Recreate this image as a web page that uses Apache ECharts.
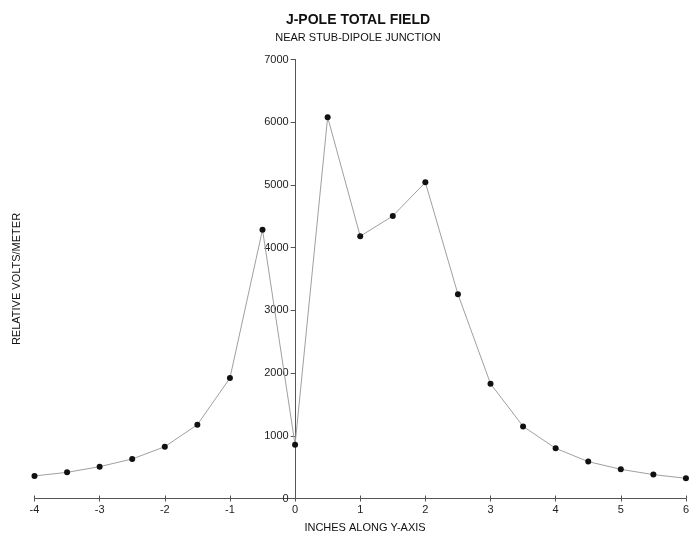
<!DOCTYPE html>
<html>
<head>
<meta charset="utf-8">
<script src="https://cdn.jsdelivr.net/npm/echarts@6/dist/echarts.min.js"></script>
<style>
  html, body { margin: 0; padding: 0; background: #fff; }
  #chart { width: 692px; height: 535px; }
</style>
</head>
<body>
<div id="chart"></div>
<script>
// Position along the Y axis (inches) and the total field magnitude at each point
const positions = [-4, -3.5, -3, -2.5, -2, -1.5, -1, -0.5, 0, 0.5, 1, 1.5, 2, 2.5, 3, 3.5, 4, 4.5, 5, 5.5, 6];
const fieldValues = [360, 417, 508, 630, 826, 1177, 1920, 4287, 858, 6081, 4182, 4505, 5041, 3258, 1830, 1150, 800, 588, 465, 381, 322];

const titleText = 'J-POLE TOTAL FIELD';
const subtitleText = 'NEAR STUB-DIPOLE JUNCTION';
const xAxisName = 'INCHES ALONG Y-AXIS';
const yAxisName = 'RELATIVE VOLTS/METER';

const FONT = 'Arial, "Liberation Sans", sans-serif';
const AXIS_COLOR = '#555';

const X_MIN = -4, X_MAX = 6;
const GRID_LEFT = 34.5, GRID_RIGHT = 4.5;
const CHART_W = 692;

// the vertical axis sits at x = 0, so shift it in from the grid's left edge
const plotW = CHART_W - GRID_LEFT - GRID_RIGHT;
const yAxisShift = plotW * (0 - X_MIN) / (X_MAX - X_MIN);

const chart = echarts.init(document.getElementById('chart'), null, { renderer: 'canvas' });

const xBase = {
  type: 'value',
  min: X_MIN,
  max: X_MAX,
  interval: 1,
  splitLine: { show: false },
  axisLine: { show: true, onZero: false, lineStyle: { color: AXIS_COLOR, width: 1 } },
};

chart.setOption({
  animation: false,
  backgroundColor: '#fff',
  title: [
    {
      text: titleText,
      left: 353, top: 8, textAlign: 'center',
      textStyle: { fontFamily: FONT, fontSize: 14, fontWeight: 'bold', color: '#111' }
    },
    {
      text: subtitleText,
      left: 353, top: 27, textAlign: 'center',
      textStyle: { fontFamily: FONT, fontSize: 11, fontWeight: 'normal', color: '#111' }
    },
    {
      text: xAxisName,
      left: 360, top: 517, textAlign: 'center',
      textStyle: { fontFamily: FONT, fontSize: 11, fontWeight: 'normal', color: '#111' }
    }
  ],
  graphic: [
    {
      type: 'text',
      x: 17, y: 279,
      rotation: Math.PI / 2,
      style: {
        text: yAxisName,
        font: '11px ' + FONT,
        fill: '#111',
        align: 'center',
        verticalAlign: 'middle'
      }
    }
  ],
  grid: { left: GRID_LEFT, right: GRID_RIGHT, top: 59.5, bottom: 36.5, containLabel: false },
  xAxis: [
    Object.assign({}, xBase, {
      position: 'bottom',
      axisTick: { show: true, inside: false, length: 3, lineStyle: { color: AXIS_COLOR } },
      axisLabel: { show: true, margin: 6, fontFamily: FONT, fontSize: 11, color: '#222' }
    }),
    Object.assign({}, xBase, {
      position: 'bottom',
      offset: 0,
      axisLine: { show: false },
      axisTick: { show: true, inside: true, length: 3, lineStyle: { color: AXIS_COLOR } },
      axisLabel: { show: false }
    })
  ],
  yAxis: {
    type: 'value',
    position: 'left',
    offset: -yAxisShift,
    min: 0,
    max: 7000,
    interval: 1000,
    splitLine: { show: false },
    axisLine: { show: true, onZero: false, lineStyle: { color: AXIS_COLOR, width: 1 } },
    axisTick: { show: true, inside: false, length: 5, lineStyle: { color: AXIS_COLOR } },
    axisLabel: {
      show: true, margin: 7, fontFamily: FONT, fontSize: 11, color: '#222',
      formatter: v => String(v)
    }
  },
  series: [
    {
      type: 'line',
      xAxisIndex: 0,
      data: positions.map((x, i) => [x, fieldValues[i]]),
      symbol: 'circle',
      symbolSize: 6,
      showAllSymbol: true,
      itemStyle: { color: '#111', borderWidth: 0 },
      lineStyle: { color: '#a0a0a0', width: 1 },
      z: 3
    }
  ]
});
</script>
</body>
</html>
